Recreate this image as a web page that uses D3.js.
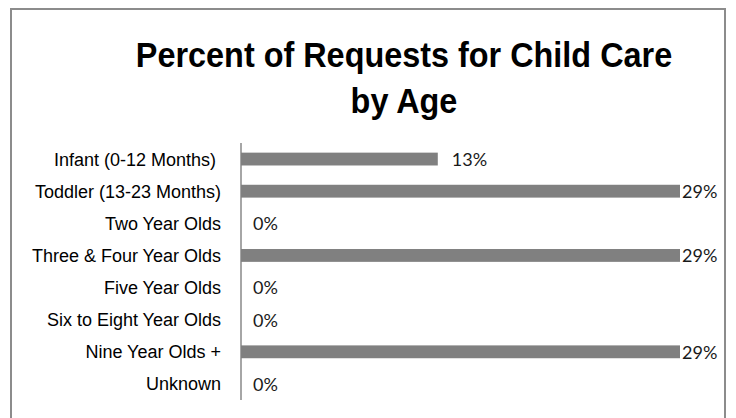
<!DOCTYPE html>
<html>
<head>
<meta charset="utf-8">
<script src="https://cdn.jsdelivr.net/npm/d3@7/dist/d3.min.js"></script>
<style>
  html, body { margin: 0; padding: 0; background: #fff; }
  svg { display: block; }
</style>
</head>
<body>
<svg id="chart" width="736" height="418"></svg>
<script>
// Age groups, in display order (top to bottom)
const categories = [
  "Infant (0-12 Months) ",
  "Toddler (13-23 Months)",
  "Two Year Olds",
  "Three & Four Year Olds",
  "Five Year Olds",
  "Six to Eight Year Olds",
  "Nine Year Olds +",
  "Unknown"
];
// Share of requests, percent
const values = [13, 29, 0, 29, 0, 0, 29, 0];
const titleLines = ["Percent of Requests for Child Care", "by Age"];

const W = 736, H = 418;
const svg = d3.select("#chart");

// Frame around the chart
svg.append("rect")
  .attr("x", 11).attr("y", 9)
  .attr("width", 714).attr("height", H + 10)
  .attr("fill", "#fff")
  .attr("stroke", "#8c8c8c")
  .attr("stroke-width", 2);

// Title
const title = svg.append("text")
  .attr("font-family", "'Liberation Sans', Arial, sans-serif")
  .attr("font-weight", "bold")
  .attr("font-size", 36)
  .attr("fill", "#000")
  .attr("text-anchor", "middle")
  .attr("transform", "translate(404,0) scale(0.9,1)");
title.selectAll("tspan")
  .data(titleLines)
  .join("tspan")
  .attr("x", 0)
  .attr("y", (d, i) => 67 + i * 46)
  .text(d => d);

const plot = { left: 241, right: 680, top: 143, bottom: 400 };

const x = d3.scaleLinear()
  .domain([0, d3.max(values)])
  .range([plot.left, plot.right]);

const y = d3.scaleBand()
  .domain(categories)
  .range([plot.top, plot.bottom])
  .paddingInner(0.6)
  .paddingOuter(0.3);

// Category axis on the left
const yAxis = d3.axisLeft(y).tickSize(0).tickPadding(20);
const gy = svg.append("g")
  .attr("transform", `translate(${plot.left},0)`)
  .call(yAxis);
gy.select(".domain").remove();
gy.selectAll("text")
  .attr("font-family", "'Liberation Sans', Arial, sans-serif")
  .attr("font-size", 18)
  .attr("fill", "#000")
  .style("white-space", "pre")
  .attr("dy", "0.36em");

svg.append("line")
  .attr("x1", plot.left).attr("x2", plot.left)
  .attr("y1", plot.top).attr("y2", plot.bottom)
  .attr("stroke", "#a6a6a6")
  .attr("stroke-width", 2);

// Bars
svg.append("g")
  .selectAll("rect")
  .data(values)
  .join("rect")
  .attr("x", x(0))
  .attr("y", (d, i) => y(categories[i]))
  .attr("width", d => x(d) - x(0))
  .attr("height", y.bandwidth())
  .attr("fill", "#808080");

// Value labels; pulled in when they would run past the frame
const labelMax = 682;
svg.append("g")
  .selectAll("text")
  .data(values)
  .join("text")
  .attr("x", d => Math.min(x(d) + (d > 0 ? 14 : 12), labelMax))
  .attr("y", (d, i) => y(categories[i]) + y.bandwidth() / 2)
  .attr("dy", "0.38em")
  .attr("font-family", "Lato, 'Open Sans', sans-serif")
  .attr("font-size", 18)
  .attr("fill", "#1a1a1a")
  .text(d => d + "%");
</script>
</body>
</html>
